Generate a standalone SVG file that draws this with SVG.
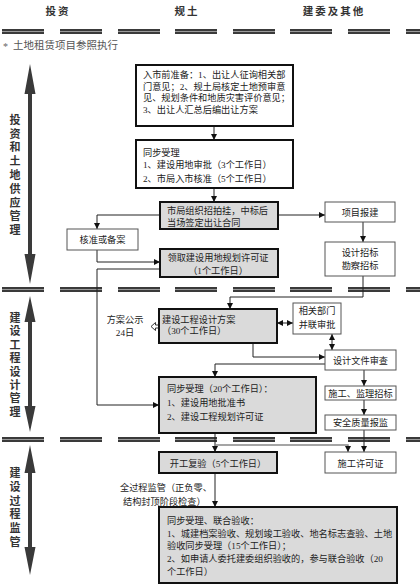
<svg xmlns="http://www.w3.org/2000/svg" xmlns:xlink="http://www.w3.org/1999/xlink" width="420" height="585" viewBox="0 0 420 585">
<style>
text{font-family:"Liberation Serif","Noto Sans CJK SC",serif;fill:#222;font-size:9.2px}
.hd{font-size:10.5px;font-weight:bold;letter-spacing:2px;text-anchor:middle;fill:#333}
.vt{font-size:11px;font-weight:bold;text-anchor:middle;fill:#333}
.c{text-anchor:middle}
.thick{stroke:#111;stroke-width:2}
.thin{fill:#fff;stroke:#555;stroke-width:1}
.white{fill:#fff}
.gray{fill:#dadada}
.conn path,.conn line{fill:none;stroke:#222;stroke-width:1}
.big{fill:#3a3a3a}
</style>
<defs>
<marker id="ah" viewBox="0 0 8 8" refX="8" refY="4" markerWidth="6" markerHeight="6" orient="auto" markerUnits="userSpaceOnUse">
<path d="M0,0 L8,4 L0,8 z" fill="#111"/>
</marker>
<marker id="as" viewBox="0 0 8 8" refX="0" refY="4" markerWidth="6" markerHeight="6" orient="auto" markerUnits="userSpaceOnUse">
<path d="M8,0 L0,4 L8,8 z" fill="#111"/>
</marker>
<g id="sep">
<rect x="2" y="0" width="42" height="5" fill="#3a3a3a"/>
<rect x="60" y="0" width="42" height="5" fill="#3a3a3a"/>
<rect x="118" y="0" width="42" height="5" fill="#3a3a3a"/>
<rect x="175" y="0" width="42" height="5" fill="#3a3a3a"/>
<rect x="233" y="0" width="42" height="5" fill="#3a3a3a"/>
<rect x="290" y="0" width="42" height="5" fill="#3a3a3a"/>
<rect x="348" y="0" width="42" height="5" fill="#3a3a3a"/>
<rect x="406" y="0" width="42" height="5" fill="#3a3a3a"/>
<path d="M2,2.5h42M60,2.5h42M118,2.5h42M175,2.5h42M233,2.5h42M290,2.5h42M348,2.5h42M406,2.5h42" stroke="#9a9a9a" stroke-width="1"/>
</g>
</defs>
<rect width="420" height="585" fill="#fff"/>

<g id="headers">
<text class="hd" x="58" y="15">投资</text>
<text class="hd" x="187" y="15">规土</text>
<text class="hd" x="334" y="15">建委及其他</text>
</g>

<g id="separators">
<use xlink:href="#sep" y="29"/>
<use xlink:href="#sep" y="287"/>
<use xlink:href="#sep" y="437"/>
</g>

<text x="3" y="50" style="fill:#666;font-size:10px">*</text>
<text x="13" y="49" style="fill:#555;font-size:10.5px">土地租赁项目参照执行</text>

<g id="phase1">
<path class="big" d="M30,64 L35.5,94 L32,94 L32,254 L35.5,254 L30,284 L24.5,254 L28,254 L28,94 L24.5,94 z"/>
<text class="vt" x="15" y="124">投</text>
<text class="vt" x="15" y="138">资</text>
<text class="vt" x="15" y="151">和</text>
<text class="vt" x="15" y="165">土</text>
<text class="vt" x="15" y="179">地</text>
<text class="vt" x="15" y="193">供</text>
<text class="vt" x="15" y="207">应</text>
<text class="vt" x="15" y="220">管</text>
<text class="vt" x="15" y="234">理</text>
</g>
<g id="phase2">
<path class="big" d="M30,296 L35.5,322 L32,322 L32,406 L35.5,406 L30,432 L24.5,406 L28,406 L28,322 L24.5,322 z"/>
<text class="vt" x="15" y="322">建</text>
<text class="vt" x="15" y="335.4">设</text>
<text class="vt" x="15" y="348.8">工</text>
<text class="vt" x="15" y="362.2">程</text>
<text class="vt" x="15" y="375.6">设</text>
<text class="vt" x="15" y="389">计</text>
<text class="vt" x="15" y="402.4">管</text>
<text class="vt" x="15" y="415.8">理</text>
</g>
<g id="phase3">
<path class="big" d="M30,445 L35.5,473 L32,473 L32,547 L35.5,547 L30,575 L24.5,547 L28,547 L28,473 L24.5,473 z"/>
<text class="vt" x="15" y="477">建</text>
<text class="vt" x="15" y="490.8">设</text>
<text class="vt" x="15" y="504.6">过</text>
<text class="vt" x="15" y="518.4">程</text>
<text class="vt" x="15" y="532.2">监</text>
<text class="vt" x="15" y="546">管</text>
</g>

<g class="conn" id="connectors">
<line x1="214" y1="126" x2="214" y2="140" marker-end="url(#ah)"/>
<line x1="214" y1="188" x2="214" y2="202" marker-end="url(#ah)"/>
<line x1="278" y1="215" x2="325" y2="215" marker-end="url(#ah)"/>
<path d="M160,215 H97 V229" marker-end="url(#ah)"/>
<path d="M97,250 V262 H160" marker-end="url(#ah)"/>
<path d="M160,269 H97 V405 H159" marker-end="url(#ah)"/>
<line x1="363" y1="222" x2="363" y2="242" marker-end="url(#ah)"/>
<path d="M363,276 V297 H230 V309" marker-end="url(#ah)"/>
<line x1="277" y1="323" x2="293" y2="323" marker-start="url(#as)" marker-end="url(#ah)"/>
<line x1="332" y1="334" x2="332" y2="350" marker-start="url(#as)" marker-end="url(#ah)"/>
<path d="M253,343 V357 H325" marker-end="url(#ah)"/>
<path d="M325,364 H215 V377" marker-end="url(#ah)"/>
<line x1="364" y1="370" x2="364" y2="386" marker-end="url(#ah)"/>
<line x1="364" y1="400" x2="364" y2="415" marker-end="url(#ah)"/>
<line x1="215" y1="433" x2="215" y2="452" marker-end="url(#ah)"/>
<path d="M215,445 H348 V452" style="stroke:#888;stroke-width:1.5" marker-end="url(#ah)"/>
<line x1="364" y1="430" x2="364" y2="452" marker-end="url(#ah)"/>
<line x1="215" y1="473" x2="215" y2="507" marker-end="url(#ah)"/>
<path d="M151,326.5 L155.5,322.5 L155.5,325 L159,325 L159,328 L155.5,328 L155.5,330.5 Z" style="stroke:#222;stroke-width:0.9;fill:#fff"/>
</g>

<g id="n1">
<rect class="thick white" x="136" y="65" width="157" height="61"/>
<text x="143" y="78">入市前准备：1、出让人征询相关部</text>
<text x="143" y="89.5">门意见；2、规土局核定土地预审意</text>
<text x="143" y="101">见、规划条件和地质灾害评价意见；</text>
<text x="143" y="112.5">3、出让人汇总后编出让方案</text>
</g>
<g id="n2">
<rect class="thick white" x="136" y="140" width="157" height="48"/>
<text x="143" y="155.5">同步受理</text>
<text x="143" y="167.5">1、建设用地审批（3个工作日）</text>
<text x="143" y="181.5">2、市局入市核准（5个工作日）</text>
</g>
<g id="n3">
<rect class="thick gray" x="160" y="202" width="118" height="27"/>
<text x="167" y="213.5">市局组织招拍挂，中标后</text>
<text x="167" y="225.5">当场签定出让合同</text>
</g>
<g id="n4">
<rect class="thin" x="325" y="202" width="70" height="20"/>
<text class="c" x="360" y="215.5">项目报建</text>
</g>
<g id="n5">
<rect class="thin" x="67" y="229" width="71" height="21"/>
<text class="c" x="102.5" y="243">核准或备案</text>
</g>
<g id="n6">
<rect class="thick gray" x="160" y="249" width="118" height="28"/>
<text class="c" x="218" y="260.5">领取建设用地规划许可证</text>
<text class="c" x="218" y="274">（1个工作日）</text>
</g>
<g id="n7">
<rect class="thin" x="325" y="242" width="70" height="34"/>
<text class="c" x="360" y="255.5">设计招标</text>
<text class="c" x="360" y="269">勘察招标</text>
</g>
<g id="n8">
<rect class="thick gray" x="159" y="309" width="118" height="34"/>
<text x="162" y="323.3">建设工程设计方案</text>
<text x="162" y="334.3">（30个工作日）</text>
</g>
<g id="n8label">
<text class="c" x="125" y="323.3">方案公示</text>
<text class="c" x="125" y="336">24日</text>
</g>
<g id="n9">
<rect class="thin" x="293" y="303" width="48" height="31"/>
<text class="c" x="317" y="313.5">相关部门</text>
<text class="c" x="317" y="328">并联审批</text>
</g>
<g id="n10">
<rect class="thin" x="325" y="350" width="71" height="20"/>
<text class="c" x="360.5" y="363.5">设计文件审查</text>
</g>
<g id="n11">
<rect class="thick gray" x="159" y="377" width="157" height="56"/>
<text x="167" y="391.5">同步受理（20个工作日）：</text>
<text x="167" y="406">1、建设用地批准书</text>
<text x="167" y="419.5">2、建设工程规划许可证</text>
</g>
<g id="n12">
<rect class="thin" x="325" y="386" width="71" height="14"/>
<text class="c" x="360.5" y="396.5">施工、监理招标</text>
</g>
<g id="n13">
<rect class="thin" x="325" y="415" width="71" height="15"/>
<text class="c" x="360.5" y="425.8">安全质量报监</text>
</g>
<g id="n14">
<rect class="thick gray" x="159" y="452" width="118" height="21"/>
<text class="c" x="218" y="466.5">开工复验（5个工作日）</text>
</g>
<g id="n15">
<rect class="thin" x="325" y="452" width="71" height="21"/>
<text class="c" x="360.5" y="466.5">施工许可证</text>
</g>
<g id="n16label">
<text x="120" y="490.5">全过程监管（正负零、</text>
<text x="123" y="504.5">结构封顶阶段检查）</text>
</g>
<g id="n16">
<rect class="thick gray" x="159" y="507" width="238" height="76"/>
<text x="167" y="523.5">同步受理、联合验收：</text>
<text x="167" y="536.5">1、城建档案验收、规划竣工验收、地名标志查验、土地</text>
<text x="167" y="549">验收同步受理（15个工作日）；</text>
<text x="167" y="562">2、如申请人委托建委组织验收的，参与联合验收（20</text>
<text x="167" y="575">个工作日）</text>
</g>
</svg>
